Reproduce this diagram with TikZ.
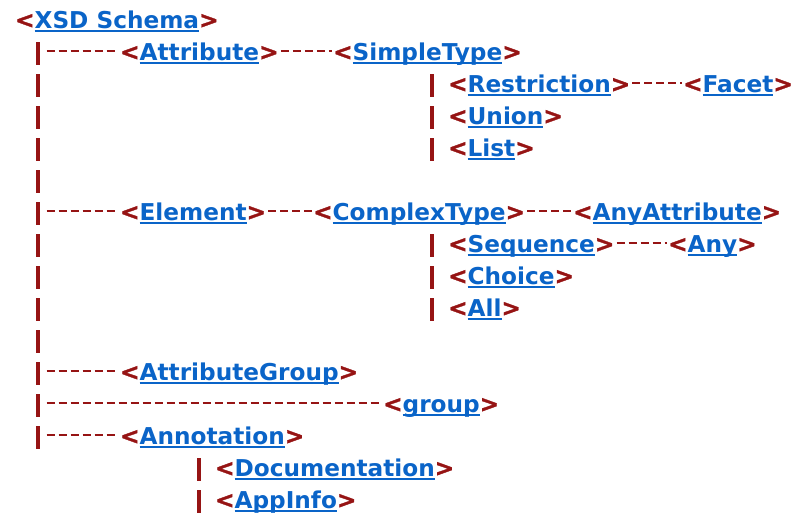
\documentclass[tikz,border=0pt]{standalone}
\usepackage{fontspec}
\setmainfont{DejaVu Sans}
\newfontface\brkfont{DejaVu Sans Bold}[FakeBold=1.4]
\usetikzlibrary{calc}
\definecolor{tagred}{HTML}{961414}
\definecolor{linkblue}{HTML}{0A64C8}
\newcommand\tagL{\textcolor{tagred}{\brkfont <}}
\newcommand\tagR{\textcolor{tagred}{\brkfont >}}
\newcommand\lnk[1]{{\color{linkblue}\setbox0\hbox{#1}\rlap{\raisebox{-3.8pt}{\rule{\wd0}{2pt}}}\box0}}
\newcommand\xtag[1]{\tagL\lnk{#1}\tagR}
\begin{document}
\begin{tikzpicture}[x=1pt,y=-1pt,
  tagnode/.style={anchor=base west, inner sep=0pt, font=\bfseries\fontsize{23.2}{28}\selectfont},
  hconn/.style={draw=tagred, line width=2.2pt, dash pattern=on 8pt off 4pt},
  vconn/.style={draw=tagred, line width=4pt, dash pattern=on 23pt off 9pt}]
\useasboundingbox (0,0) rectangle (794,515);

% nodes
\node[tagnode] (root)    at (15,28)   {\xtag{XSD Schema}};
\node[tagnode] (attr)    at (120,60)  {\xtag{Attribute}};
\node[tagnode] (simple)  at (333,60)  {\xtag{SimpleType}};
\node[tagnode] (restr)   at (448,92)  {\xtag{Restriction}};
\node[tagnode] (facet)   at (683,92)  {\xtag{Facet}};
\node[tagnode] (union)   at (448,124) {\xtag{Union}};
\node[tagnode] (list)    at (448,156) {\xtag{List}};
\node[tagnode] (element) at (120,220) {\xtag{Element}};
\node[tagnode] (complex) at (313,220) {\xtag{ComplexType}};
\node[tagnode] (anyattr) at (573,220) {\xtag{AnyAttribute}};
\node[tagnode] (seq)     at (448,252) {\xtag{Sequence}};
\node[tagnode] (any)     at (668,252) {\xtag{Any}};
\node[tagnode] (choice)  at (448,284) {\xtag{Choice}};
\node[tagnode] (all)     at (448,316) {\xtag{All}};
\node[tagnode] (agroup)  at (120,380) {\xtag{AttributeGroup}};
\node[tagnode] (group)   at (383,412) {\xtag{group}};
\node[tagnode] (annot)   at (120,444) {\xtag{Annotation}};
\node[tagnode] (doc)     at (215,476) {\xtag{Documentation}};
\node[tagnode] (appinfo) at (215,508) {\xtag{AppInfo}};

% main spine
\coordinate (spine) at ($(root.base west)+(22.5pt,-14pt)$);
\draw[vconn] (spine) -- ($(spine |- annot.base)+(0,-5pt)$);

% branches from the spine
\foreach \c in {attr,element,agroup,group,annot}
  \draw[hconn] ($(spine |- \c.base)+(9pt,9pt)$) -- ($(\c.base west)+(-2pt,9pt)$);

% horizontal links between siblings
\draw[hconn] ($(attr.base east)+(2pt,9pt)$) -- ($(simple.base west)+(-1pt,9pt)$);
\draw[hconn] ($(restr.base east)+(2pt,9pt)$) -- ($(facet.base west)+(-1pt,9pt)$);
\draw[hconn] ($(element.base east)+(2pt,9pt)$) -- ($(complex.base west)+(-1pt,9pt)$);
\draw[hconn] ($(complex.base east)+(2pt,9pt)$) -- ($(anyattr.base west)+(-1pt,9pt)$);
\draw[hconn] ($(seq.base east)+(2pt,9pt)$) -- ($(any.base west)+(-1pt,9pt)$);

% sub-spines
\draw[vconn] ($(restr.base west)+(-16pt,18pt)$) -- ($(list.base west)+(-16pt,-5pt)$);
\draw[vconn] ($(seq.base west)+(-16pt,18pt)$) -- ($(all.base west)+(-16pt,-5pt)$);
\draw[vconn] ($(doc.base west)+(-16pt,18pt)$) -- ($(appinfo.base west)+(-16pt,-5pt)$);
\end{tikzpicture}
\end{document}
